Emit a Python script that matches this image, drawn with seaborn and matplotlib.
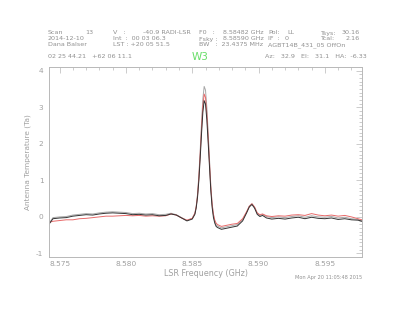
import numpy as np
import pandas as pd
import matplotlib
matplotlib.use("Agg")
import matplotlib.pyplot as plt
import seaborn as sns
from matplotlib.ticker import MultipleLocator, FormatStrFormatter

# ---------------- data ----------------
freq = [8.5742, 8.5745, 8.5750, 8.5755, 8.5760, 8.5765, 8.5770, 8.5775, 8.5780,
        8.5785, 8.5790, 8.5795, 8.5800, 8.5805, 8.5810, 8.5815, 8.5820, 8.5825,
        8.5830, 8.5834, 8.5838, 8.5842, 8.5846, 8.5850,
        8.5852, 8.5853, 8.5854, 8.5855, 8.5856, 8.5857, 8.5858, 8.5859, 8.5860,
        8.5861, 8.5862, 8.5863, 8.5864, 8.5865, 8.5866, 8.5867, 8.5868,
        8.5869, 8.5872, 8.5876,
        8.5880, 8.5884, 8.5888, 8.5891, 8.5893, 8.5895, 8.5897, 8.5899, 8.5901,
        8.5903, 8.5906, 8.5910, 8.5915, 8.5920, 8.5925, 8.5930, 8.5935, 8.5940,
        8.5945, 8.5950, 8.5955, 8.5960, 8.5965, 8.5970, 8.5975, 8.5978]

ta_gray = [-0.18, -0.02, 0.00, 0.01, 0.05, 0.07, 0.09, 0.08, 0.11,
           0.13, 0.14, 0.13, 0.12, 0.09, 0.10, 0.08, 0.09, 0.06,
           0.07, 0.10, 0.06, -0.02, -0.10, -0.04,
           0.10, 0.29, 0.62, 1.14, 1.82, 2.57, 3.23, 3.57, 3.47,
           3.00, 2.31, 1.58, 0.85, 0.35, 0.05, -0.12, -0.22,
           -0.25, -0.30, -0.27,
           -0.24, -0.21, -0.08, 0.13, 0.29, 0.36, 0.26, 0.10, 0.04,
           0.07, 0.01, -0.02, 0.00, -0.02, 0.01, 0.03, -0.01, 0.03,
           0.00, -0.01, 0.01, -0.03, -0.01, -0.05, -0.07, -0.11]

ta_red = [-0.15, -0.12, -0.10, -0.08, -0.08, -0.05, -0.04, -0.02, 0.00,
          0.02, 0.02, 0.03, 0.04, 0.03, 0.04, 0.02, 0.03, 0.02,
          0.03, 0.08, 0.05, -0.03, -0.09, -0.04,
          0.10, 0.28, 0.59, 1.08, 1.72, 2.42, 3.04, 3.36, 3.27,
          2.83, 2.18, 1.49, 0.81, 0.35, 0.07, -0.09, -0.17,
          -0.21, -0.26, -0.23,
          -0.20, -0.18, -0.05, 0.14, 0.29, 0.36, 0.27, 0.11, 0.06,
          0.08, 0.03, 0.01, 0.03, 0.02, 0.05, 0.06, 0.04, 0.09,
          0.05, 0.03, 0.05, 0.02, 0.04, 0.00, -0.05, -0.08]

ta_black = [-0.20, -0.05, -0.03, -0.02, 0.02, 0.04, 0.06, 0.05, 0.08,
            0.10, 0.11, 0.10, 0.09, 0.06, 0.07, 0.05, 0.06, 0.03,
            0.04, 0.08, 0.05, -0.03, -0.11, -0.06,
            0.07, 0.25, 0.54, 1.00, 1.61, 2.27, 2.86, 3.18, 3.09,
            2.66, 2.04, 1.38, 0.72, 0.26, -0.02, -0.17, -0.26,
            -0.29, -0.34, -0.31,
            -0.28, -0.25, -0.11, 0.11, 0.27, 0.34, 0.24, 0.07, 0.01,
            0.04, -0.03, -0.06, -0.04, -0.06, -0.03, -0.01, -0.05, -0.01,
            -0.04, -0.05, -0.03, -0.07, -0.05, -0.08, -0.09, -0.12]

series_names = ["gray", "red", "black"]
series_colors = ["#a8a8a8", "#e86a6a", "#333333"]

# ---------------- figure ----------------
sns.set_style("white")
plt.rcParams["font.family"] = ["DejaVu Sans"]

df = pd.DataFrame({
    "freq": freq * 3,
    "ta": ta_gray + ta_red + ta_black,
    "series": sum([[n] * len(freq) for n in series_names], []),
})

fig = plt.figure(figsize=(4.0, 3.09), dpi=100)
ax = fig.add_axes([0.1225, 0.168, 0.7825, 0.615])

sns.lineplot(data=df, x="freq", y="ta", hue="series", hue_order=series_names,
             palette=dict(zip(series_names, series_colors)), linewidth=0.7,
             legend=False, ax=ax, sort=False)

ax.set_xlim(8.5742, 8.5978)
ax.set_ylim(-1.1, 4.1)

tc = "#a0a0a0"
for s in ax.spines.values():
    s.set_color("#b8b8b8")
    s.set_linewidth(0.7)

ax.xaxis.set_major_locator(MultipleLocator(0.005))
ax.xaxis.set_minor_locator(MultipleLocator(0.001))
ax.yaxis.set_major_locator(MultipleLocator(1))
ax.yaxis.set_minor_locator(MultipleLocator(0.1))
ax.xaxis.set_major_formatter(FormatStrFormatter("%.3f"))
ax.yaxis.set_major_formatter(FormatStrFormatter("%d"))
ax.tick_params(which="both", direction="in", top=True, right=True,
               color="#b8b8b8", width=0.5, labelcolor=tc, labelsize=5.3)
ax.tick_params(which="major", length=4, pad=3)
ax.tick_params(axis="y", which="major", pad=4)
ax.tick_params(which="minor", length=2)

ax.set_xlabel("LSR Frequency (GHz)", fontsize=5.8, color=tc, labelpad=1)
ax.set_ylabel("Antenna Temperature (Ta)", fontsize=5.3, color=tc, labelpad=4)

# ---------------- header text ----------------
hc = "#909090"
fs = 4.6
def t(x, y, s, ha="left", **kw):
    fig.text(x / 400, 1 - y / 309, s, ha=ha, va="center", fontsize=kw.pop("fontsize", fs),
             color=kw.pop("color", hc), **kw)

t(48, 33, "Scan"); t(93, 33, "13", ha="right")
t(113, 33, "V   :"); t(191, 33, "-40.9 RADI-LSR", ha="right")
t(199, 33, "F0   :"); t(264, 33, "8.58482 GHz", ha="right")
t(268, 33, "Pol:"); t(287, 33, "LL")
t(320, 33, "Tsys:"); t(360, 33, "30.16", ha="right")

t(48, 39, "2014-12-10")
t(113, 39, "Int  :  00 03 06.3")
t(199, 39, "Fsky :"); t(264, 39, "8.58590 GHz", ha="right")
t(268, 39, "IF  :"); t(285, 39, "0")
t(320, 39, "Tcal:"); t(360, 39, "2.16", ha="right")

t(48, 45, "Dana Balser")
t(113, 45, "LST : +20 05 51.5")
t(199, 45, "BW   :  23.4375 MHz")
t(268, 45, "AGBT14B_431_05 OffOn")

t(48, 57, "02 25 44.21   +62 06 11.1")
t(200, 57, "W3", ha="center", fontsize=7.5, color="#66dd66")
t(367, 57, "Az:   32.9   El:   31.1   HA:  -6.33", ha="right")

t(362, 277, "Mon Apr 20 11:05:48 2015", ha="right", fontsize=3.6)

fig.savefig("out.png", dpi=100)
